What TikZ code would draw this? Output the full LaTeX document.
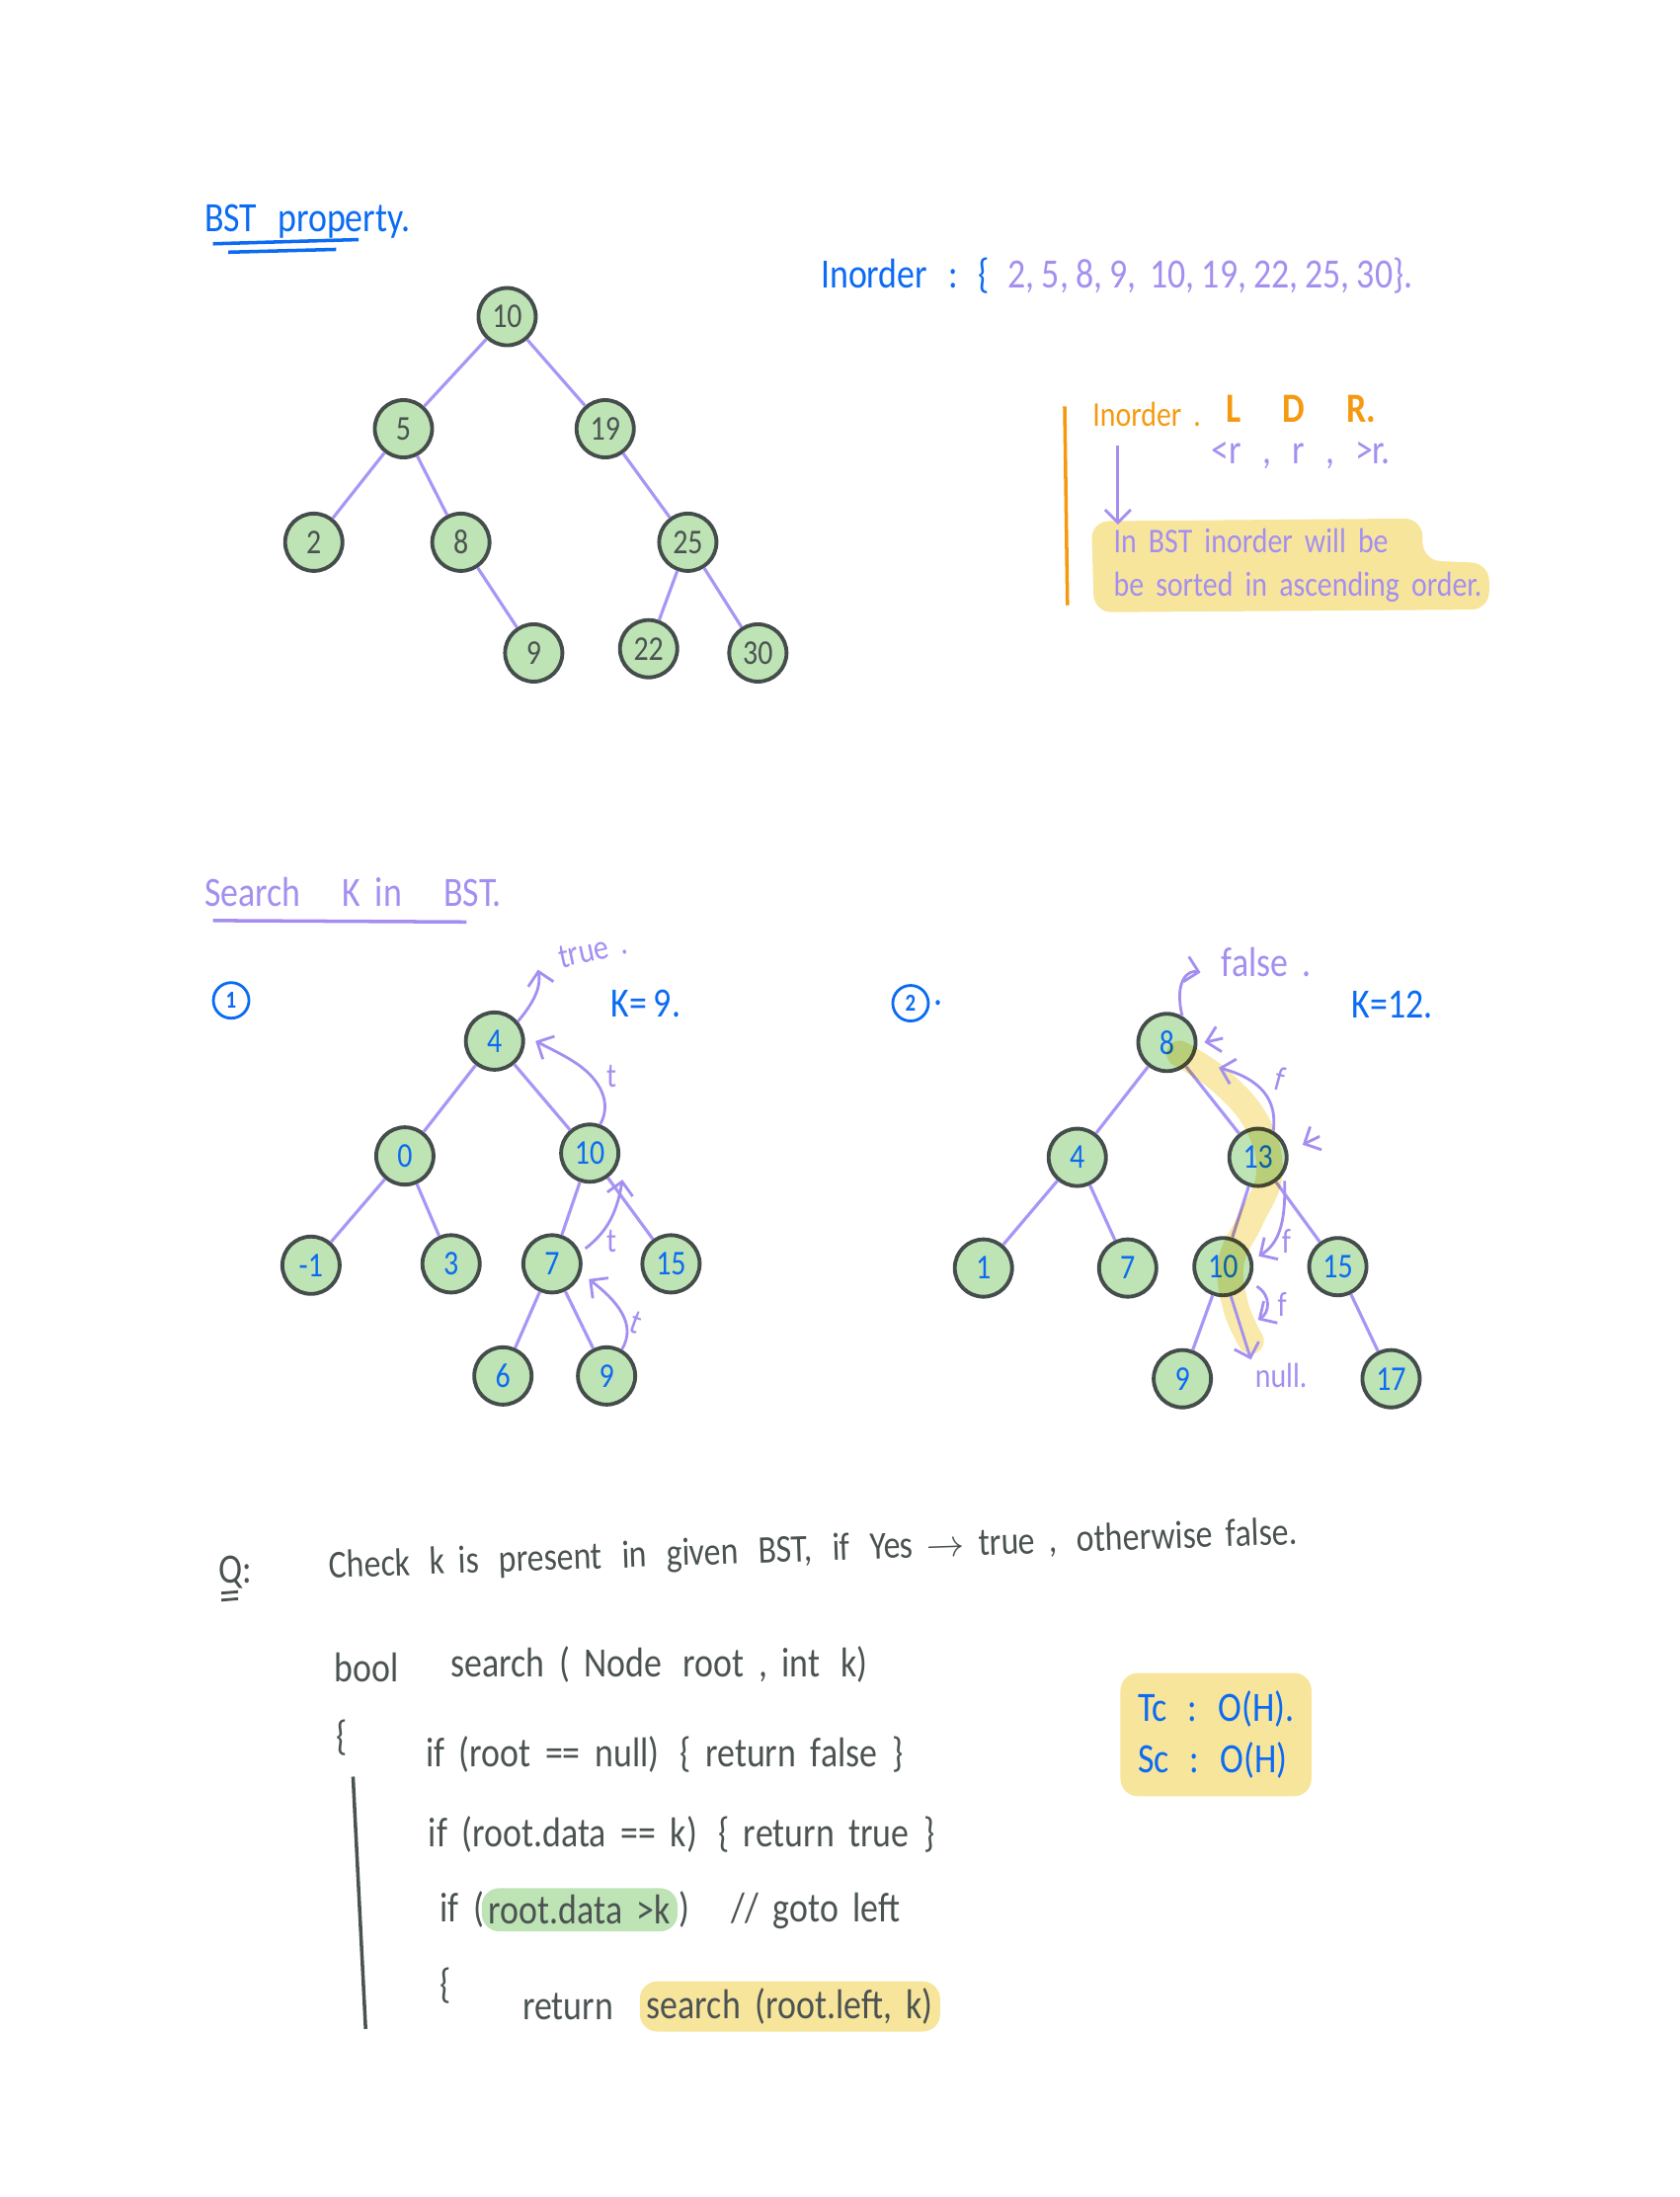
\documentclass[tikz,border=0pt]{standalone}
\usepackage{fontspec}
\setmainfont{Carlito}[WordSpace=1.8, FakeStretch=0.85]
\usetikzlibrary{arrows.meta, positioning}
\definecolor{nodefill}{HTML}{BEE3B5}
\definecolor{nodedraw}{HTML}{454D4C}
\definecolor{edgepurple}{HTML}{A896F7}
\definecolor{inkblue}{HTML}{0B6BF2}
\definecolor{inkpurple}{HTML}{A48FF0}
\definecolor{inkorange}{HTML}{F59A10}
\definecolor{inkgray}{HTML}{4B5352}
\definecolor{hlyellow}{HTML}{F8E59C}
\definecolor{hlgreen}{HTML}{BEE3B5}

\begin{document}
\begin{tikzpicture}[
  x=0.01418cm, y=-0.01418cm,
  node distance=1mm,
  % tree nodes
  key/.style={circle, draw=nodedraw, fill=nodefill, line width=1.1pt,
              minimum size=5.8mm, inner sep=0pt, font=\normalsize, text=#1},
  key/.default=inkgray,
  % tree edges
  edge/.style={draw=edgepurple, line width=0.9pt},
  % handwritten text
  ink/.style={text=#1, inner sep=1pt, anchor=west, font=\large},
  % hand-drawn arrows
  harr/.style={-{Straight Barb[length=1.3mm, width=2.6mm]}, draw=inkpurple, line width=0.8pt},
  % numbered circles
  num/.style={circle, draw=inkblue, text=inkblue, line width=0.8pt, inner sep=0.5pt,
              font=\scriptsize\bfseries, minimum size=3.6mm},
  % highlighter boxes
  marker/.style={fill=#1, rounded corners=5pt, inner sep=2pt},
]
\useasboundingbox (0,0) rectangle (1199,1568);

% ── BST property ─────────────────────────────────
\node[ink=inkblue] (title) at (143,158) {BST\enspace property.};
\draw[inkblue, line width=1pt] (152,174) -- (256,171);
\draw[inkblue, line width=1pt] (163,180) -- (240,178);

\node[ink=inkblue] (inord) at (583,197) {Inorder\enspace:\enspace\{};
\node[ink=inkpurple, right=1mm of inord] (inseq) {2,\,5,\,8,\,9,\,\,10,\,19,\,22,\,25,\,30\}.};

% tree 1
\node[key] (a10) at (362,226) {10};
\node[key] (a5) at (288,306) {5};
\node[key] (a19) at (432,306) {19};
\node[key] (a2) at (224,387) {2};
\node[key] (a8) at (329,387) {8};
\node[key] (a25) at (491,387) {25};
\node[key] (a9) at (381,466) {9};
\node[key] (a22) at (463,463) {22};
\node[key] (a30) at (541,466) {30};
\foreach \a/\b in {a10/a5, a10/a19, a5/a2, a5/a8, a8/a9, a19/a25, a25/a22, a25/a30} {
  \draw[edge] (\a) -- (\b);
}

% ── inorder note ─────────────────────────────────
\draw[inkorange, line width=1pt] (760,290) -- (762,432);
\node[ink=inkorange, font=\normalsize] (ldr) at (777,296) {Inorder .};
\node[ink=inkorange, font=\large\bfseries] (ldrkeys) at (872,292) {L\enspace\enspace D\enspace\enspace R.};
\node[ink=inkpurple] (rels) at (862,325) {<r\enspace,\enspace r\enspace,\enspace >r.};
\path[marker=hlyellow] (779,372) -- (1015,370) -- (1016,400) -- (1063,402) -- (1063,435) -- (781,437) -- cycle;
\node[ink=inkpurple, font=\normalsize] (note1) at (792,386) {In BST inorder will be};
\node[ink=inkpurple, font=\normalsize] (note2) at (792,419) {be sorted in ascending order.};
\draw[harr] (798,318) -- (note1.north -| 798,318);

% ── Search K in BST ──────────────────────────────
\node[ink=inkpurple] (search) at (143,637) {Search\quad K in\quad BST.};
\draw[inkpurple, line width=1pt] (152,657) -- (333,658);

% example 1
\node[num] (one) at (165,714) {1};
\node[ink=inkblue] (k9) at (433,716) {K=\,9.};
\node[ink=inkpurple, rotate=12, font=\normalsize] (true) at (396,684) {true .};

\node[key=inkblue] (b4) at (353,743) {4};
\node[key=inkblue] (b0) at (289,825) {0};
\node[key=inkblue] (b10) at (421,823) {10};
\node[key=inkblue] (bm1) at (222,903) {-1};
\node[key=inkblue] (b3) at (322,902) {3};
\node[key=inkblue] (b7) at (394,902) {7};
\node[key=inkblue] (b15) at (479,902) {15};
\node[key=inkblue] (b6) at (359,982) {6};
\node[key=inkblue] (b9) at (433,982) {9};
\foreach \a/\b in {b4/b0, b4/b10, b0/bm1, b0/b3, b10/b7, b10/b15, b7/b6, b7/b9} {
  \draw[edge] (\a) -- (\b);
}

\draw[harr] (b4.40) .. controls (384,712) and (386,702) .. (384,692);
\draw[harr] (b10.70) .. controls (438,785) and (425,770) .. (418,764)
  .. controls (410,757) and (400,752) .. ([xshift=3pt]b4.east);
\node[ink=inkpurple, font=\normalsize] at (430,768) {t};
\draw[harr] ([xshift=2pt]b7.30) .. controls (432,880) and (440,868) .. ([xshift=5pt]b10.-60);
\node[ink=inkpurple, font=\normalsize] at (430,886) {t};
\draw[harr] (b9.60) .. controls (455,945) and (440,928) .. ([xshift=3pt]b7.-30);
\node[ink=inkpurple, font=\normalsize, rotate=-20] at (448,942) {t};

% example 2
\node[num] (two) at (650,716) {2};
\node[ink=inkblue, right=0pt of two] {.};
\node[ink=inkblue] (k12) at (962,717) {K=12.};
\node[ink=inkpurple] (false) at (869,687) {false .};

\node[key=inkblue] (c8) at (833,744) {8};
\node[key=inkblue] (c4) at (769,826) {4};
\node[key=inkblue] (c13) at (898,826) {13};
\node[key=inkblue] (c1) at (702,905) {1};
\node[key=inkblue] (c7) at (805,905) {7};
\node[key=inkblue] (c10) at (873,904) {10};
\node[key=inkblue] (c15) at (955,904) {15};
\node[key=inkblue] (c9) at (844,984) {9};
\node[key=inkblue] (c17) at (993,984) {17};
\foreach \a/\b in {c8/c4, c8/c13, c4/c1, c4/c7, c13/c10, c13/c15, c10/c9, c15/c17} {
  \draw[edge] (\a) -- (\b);
}
% search path highlight
\draw[hlyellow, line width=7.5pt, line cap=round, opacity=0.85, blend mode=multiply]
  plot[smooth, tension=0.7] coordinates {(842,752) (872,772) (898,803) (906,838)
  (893,870) (879,900) (882,932) (893,957)};

\node[ink=inkpurple, font=\normalsize] (null) at (893,982) {null.};
\draw[harr] (c8.60) .. controls (838,700) and (848,692) .. (857,694);
\draw[harr] (873,741) -- ([xshift=2pt]c8.east);
\draw[harr] (c13.60) .. controls (912,785) and (900,770) .. (870,762);
\node[ink=inkpurple, font=\normalsize, rotate=-15] at (908,768) {f};
\draw[harr] (942,811) -- ([shift={(10,-9)}]c13.east);
\draw[harr] ([xshift=2pt]c13.-50) .. controls (918,875) and (912,888) .. ([xshift=2pt]c10.20);
\node[ink=inkpurple, font=\normalsize] at (912,886) {f};
\draw[harr] ([xshift=3pt]c10.-40) .. controls (908,925) and (906,937) .. (898,942);
\node[ink=inkpurple, font=\normalsize] at (909,931) {f};
\draw[harr] (c10.-75) -- (null.north west);

% ── question + code ──────────────────────────────
\node[ink=inkgray] (q) at (153,1122) {Q:};
\draw[inkgray, line width=0.8pt] (158,1137) -- (170,1136);
\draw[inkgray, line width=0.8pt] (158,1142) -- (170,1141);
\node[ink=inkgray, rotate=2, font=\fontsize{11.3}{13}\selectfont] (task) at (232,1119) {Check\enspace k is\enspace present\enspace in\enspace given\enspace BST,\enspace if\enspace Yes $\rightarrow$ true ,\enspace otherwise false.};

\node[ink=inkgray] (bool) at (236,1190) {bool};
\node[ink=inkgray] (sig) at (319,1188) {search ( Node\enspace root , int\enspace k)};
\node[ink=inkgray] (open1) at (237,1240) {\{};
\draw[inkgray, line width=1pt] (252,1268) -- (261,1448);
\node[ink=inkgray] (line1) at (301,1252) {if (root == null)\enspace\{ return false \}};
\node[ink=inkgray] (line2) at (303,1309) {if (root.data == k)\enspace\{ return true \}};
\node[ink=inkgray] (if3) at (311,1363) {if (};
\node[ink=inkgray, marker=hlgreen, right=-2pt of if3] (cond) {root.data >k};
\node[ink=inkgray, right=-1pt of cond] (close3) {)\quad // goto left};
\node[ink=inkgray] (open2) at (311,1417) {\{};
\node[ink=inkgray] (ret) at (370,1432) {return};
\node[ink=inkgray, marker=hlyellow, right=2.2mm of ret] (call) {search (root.left, k)};

\node[marker=hlyellow, text=inkblue, font=\large, align=left, inner sep=5pt] (cost) at (868,1238)
  {Tc\enspace:\enspace O(H).\\[1pt] Sc\enspace:\enspace O(H)};

\end{tikzpicture}
\end{document}
